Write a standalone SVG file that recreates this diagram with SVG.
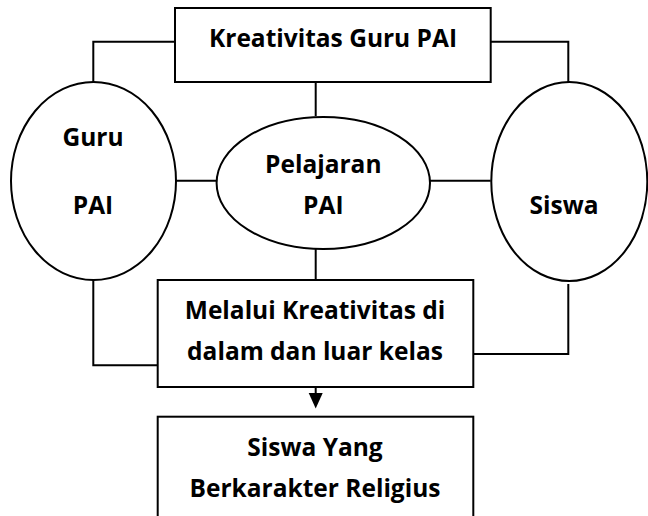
<svg xmlns="http://www.w3.org/2000/svg" width="648" height="516" viewBox="0 0 648 516">
<defs>
<style>
.shape{fill:#fff;stroke:#000;stroke-width:2}
.conn{fill:none;stroke:#000;stroke-width:2}
.lbl{font-family:"Open Sans","Liberation Sans",sans-serif;font-weight:bold;font-size:24.5px;fill:#000;text-anchor:middle}
</style>
<marker id="arr" markerWidth="14" markerHeight="16" refX="7" refY="15" orient="auto" markerUnits="userSpaceOnUse" viewBox="0 0 14 16">
<path d="M0,0 L14,0 L7,16 Z" fill="#000"/>
</marker>
</defs>
<g id="connectors">
<path class="conn" d="M175,41.7 H93.3 V82"/>
<path class="conn" d="M490.7,41.7 H568.3 V82"/>
<path class="conn" d="M315.7,82 V116"/>
<path class="conn" d="M176,180.7 H216.7"/>
<path class="conn" d="M430,180.7 H490.7"/>
<path class="conn" d="M315.7,249 V282"/>
<path class="conn" d="M93.3,280 V365.3 H157.7"/>
<path class="conn" d="M568.3,284 V354 H473.3"/>
<path class="conn" d="M315.7,364.3 V393" style="stroke-width:2"/>
<path d="M308.7,393 L322.7,393 L315.7,408.5 Z" fill="#000"/>
</g>
<g id="kreativitas-guru">
<rect class="shape" x="175" y="8" width="315.7" height="74"/>
<text class="lbl" x="333" y="46.7">Kreativitas Guru PAI</text>
</g>
<g id="guru-pai">
<ellipse class="shape" cx="93.5" cy="181" rx="82.5" ry="99"/>
<text class="lbl" x="93" y="146">Guru</text>
<text class="lbl" x="93" y="214.3">PAI</text>
</g>
<g id="pelajaran-pai">
<ellipse class="shape" cx="323.3" cy="183" rx="106.7" ry="66"/>
<text class="lbl" x="323.3" y="173.3">Pelajaran</text>
<text class="lbl" x="323.3" y="214.3">PAI</text>
</g>
<g id="siswa">
<ellipse class="shape" cx="569.3" cy="181.5" rx="78" ry="99.5"/>
<text class="lbl" x="564" y="214.3">Siswa</text>
</g>
<g id="melalui">
<rect class="shape" x="157.7" y="280" width="315.6" height="107"/>
<text class="lbl" x="315" y="319.3">Melalui Kreativitas di</text>
<text class="lbl" x="315" y="360">dalam dan luar kelas</text>
</g>
<g id="siswa-religius">
<rect class="shape" x="157.7" y="416.7" width="315.6" height="110"/>
<text class="lbl" x="315" y="456">Siswa Yang</text>
<text class="lbl" x="315" y="496.7">Berkarakter Religius</text>
</g>
</svg>
